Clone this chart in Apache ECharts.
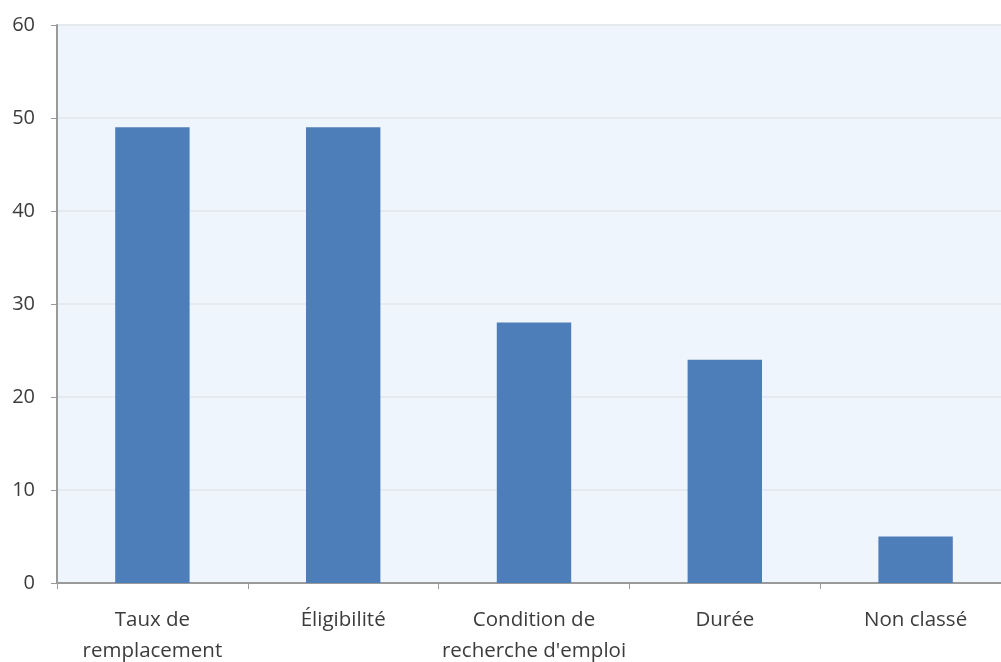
<!DOCTYPE html>
<html>
<head>
<meta charset="utf-8">
<script src="https://cdn.jsdelivr.net/npm/echarts@6/dist/echarts.min.js"></script>
<style>
  html, body { margin: 0; padding: 0; background: #ffffff; overflow: hidden; }
  #wrap { width: 1001px; height: 662px; overflow: hidden; }
  #chart { width: 1011px; height: 662px; }
</style>
</head>
<body>
<div id="wrap"><div id="chart"></div></div>
<script>
// Categories and values of the bar chart
const categories = ['Taux de\nremplacement', 'Éligibilité', 'Condition de\nrecherche d\'emploi', 'Durée', 'Non classé'];
const values = [49, 49, 28, 24, 5];
const yTicks = { min: 0, max: 60, interval: 10 };

const chart = echarts.init(document.getElementById('chart'), null, { renderer: 'canvas' });

chart.setOption({
  animation: false,
  grid: {
    left: 57, right: 0, top: 25, bottom: 79,
    containLabel: false,
    outerBoundsMode: 'none',
    show: true,
    backgroundColor: '#eef5fc',
    borderWidth: 0
  },
  xAxis: {
    type: 'category',
    data: categories,
    axisLine: { show: true, lineStyle: { color: '#9a9a9a', width: 2 } },
    axisTick: { show: true, alignWithLabel: false, length: 6, lineStyle: { color: '#9a9a9a', width: 1 } },
    axisLabel: {
      interval: 0,
      margin: 22,
      fontFamily: 'Open Sans',
      fontSize: 20.5,
      lineHeight: 31,
      color: '#3c3c3c'
    },
    splitLine: { show: false }
  },
  yAxis: {
    type: 'value',
    min: yTicks.min,
    max: yTicks.max,
    interval: yTicks.interval,
    axisLine: { show: true, lineStyle: { color: '#9a9a9a', width: 2 } },
    axisTick: { show: true, length: 6, lineStyle: { color: '#9a9a9a', width: 1 } },
    axisLabel: {
      margin: 22,
      fontFamily: 'Open Sans',
      fontSize: 20,
      color: '#3c3c3c'
    },
    splitLine: { show: true, lineStyle: { color: '#e5eaef', width: 2 } }
  },
  series: [{
    type: 'bar',
    data: values,
    barWidth: '39%',
    itemStyle: { color: '#4e7eb9' }
  }]
});
</script>
</body>
</html>
